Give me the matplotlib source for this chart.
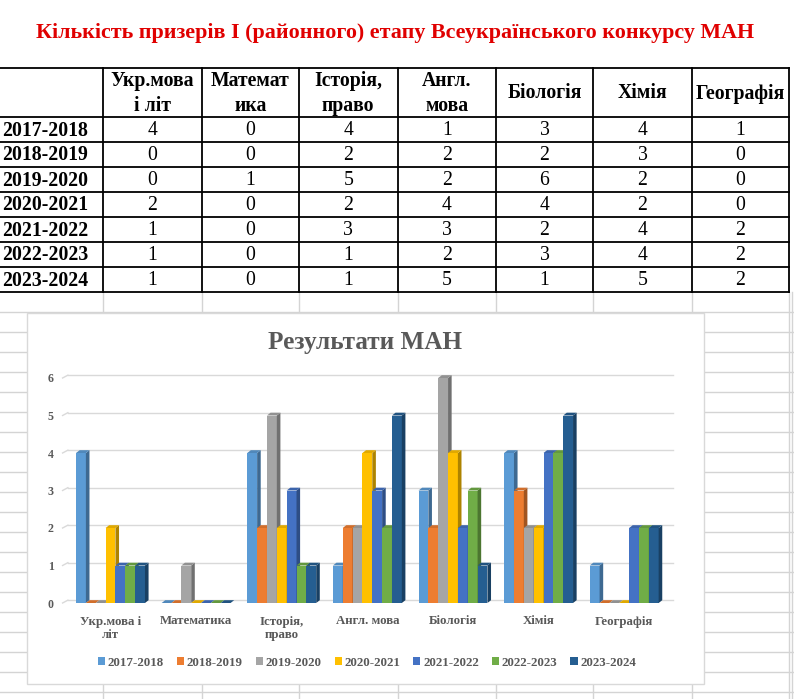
import matplotlib
matplotlib.use("Agg")
import matplotlib.pyplot as plt
from matplotlib.patches import Polygon, Rectangle, Patch
import matplotlib.colors as mcolors

plt.rcParams['font.family'] = ['Liberation Serif', 'DejaVu Serif']

# data
subjects_tab = ["Укр.мова\nі літ", "Математ\nика", "Історія,\nправо", "Англ.\nмова",
                "Біологія", "Хімія", "Географія"]
subjects = ["Укр.мова і\nліт", "Математика", "Історія,\nправо", "Англ. мова",
            "Біологія", "Хімія", "Географія"]
years = ["2017-2018", "2018-2019", "2019-2020", "2020-2021",
         "2021-2022", "2022-2023", "2023-2024"]
y2017 = [4, 0, 4, 1, 3, 4, 1]
y2018 = [0, 0, 2, 2, 2, 3, 0]
y2019 = [0, 1, 5, 2, 6, 2, 0]
y2020 = [2, 0, 2, 4, 4, 2, 0]
y2021 = [1, 0, 3, 3, 2, 4, 2]
y2022 = [1, 0, 1, 2, 3, 4, 2]
y2023 = [1, 0, 1, 5, 1, 5, 2]
series = [y2017, y2018, y2019, y2020, y2021, y2022, y2023]
colors = ["#5B9BD5", "#ED7D31", "#A5A5A5", "#FFC000", "#4472C4", "#70AD47", "#255E91"]

W, H = 794, 699
fig = plt.figure(figsize=(W / 100, H / 100), dpi=100)
bg = fig.add_axes([0, 0, 1, 1])
bg.set_xlim(0, W)
bg.set_ylim(H, 0)
bg.axis("off")

# spreadsheet grid
col_edges = [0, 103, 201.5, 299, 397.5, 496, 593, 692, 789]
head_top, head_bot, row_h = 68, 117, 25
tab_bot = head_bot + row_h * len(years)
grid_c = "#D4D4D4"
for x in col_edges[1:] + [792]:
    bg.plot([x, x], [tab_bot, H], color=grid_c, lw=1, zorder=0)
y = tab_bot + 20
while y < H:
    bg.plot([0, W], [y, y], color=grid_c, lw=1, zorder=0)
    y += 20

# title
bg.text(W / 2 - 2, 33, "Кількість призерів І (районного) етапу Всеукраїнського конкурсу МАН",
        color="#E00000", fontsize=15.8, fontweight="bold", ha="center", va="center")

# table
for i, x in enumerate(col_edges):
    if i > 0:
        bg.plot([x, x], [head_top, tab_bot], color="black", lw=1.3, zorder=2)
bg.plot([0, col_edges[-1]], [head_top, head_top], color="black", lw=1.3, zorder=2)
for r in range(len(years) + 1):
    yy = head_bot + r * row_h
    bg.plot([0, col_edges[-1]], [yy, yy], color="black", lw=1.3, zorder=2)
for j, s in enumerate(subjects_tab):
    cx = (col_edges[j + 1] + col_edges[j + 2]) / 2
    bg.text(cx, (head_top + head_bot) / 2 + 1, s, fontsize=14.2, fontweight="bold",
            ha="center", va="center", linespacing=1.3)
for r, yr in enumerate(years):
    cy = head_bot + r * row_h + row_h / 2 + 1
    bg.text(2, cy, yr, fontsize=14.2, fontweight="bold", ha="left", va="center")
    for j, v in enumerate(series[r]):
        cx = (col_edges[j + 1] + col_edges[j + 2]) / 2
        bg.text(cx, cy, str(v), fontsize=14.2, ha="center", va="center")

# chart box
bg.add_patch(Rectangle((27, 313), 677, 371, facecolor="white", edgecolor="#D9D9D9",
                       lw=1, zorder=3))
bg.text(364.5, 342, "Результати МАН", color="#595959", fontsize=18.2,
        fontweight="bold", ha="center", va="center", zorder=4)

# chart axes (pixel layout)
px_l, px_r, px_t, px_b = 67.7, 667, 378, 603
ax = fig.add_axes([px_l / W, 1 - px_b / H, (px_r - px_l) / W, (px_b - px_t) / H])
ax.set_xlim(-0.5, 6.5)
ax.set_ylim(0, 6)
ax.patch.set_alpha(0)
for sp in ax.spines.values():
    sp.set_visible(False)

dx, dy = 0.042, 0.075
bw = 0.115
n = len(series)
for k in range(7):
    ax.plot([-0.56, -0.56 + dx + 0.02], [k, k + dy], color="#D9D9D9", lw=1, zorder=1,
            clip_on=False)
    ax.plot([-0.56 + dx + 0.02, 6.57], [k + dy, k + dy], color="#D9D9D9", lw=1,
            zorder=1, clip_on=False)

z = 2
for c in range(len(subjects)):
    for s in range(n):
        v = series[s][c]
        col = colors[s]
        rgb = mcolors.to_rgb(col)
        side = tuple(ch * 0.68 for ch in rgb)
        top = tuple(ch * 0.88 for ch in rgb)
        x0 = c - n * bw / 2 + s * bw
        ax.bar(x0, v, width=bw, align="edge", color=col, zorder=z, lw=0)
        ax.add_patch(Polygon([(x0 + bw, 0), (x0 + bw + dx, dy), (x0 + bw + dx, v + dy),
                              (x0 + bw, v)], closed=True, facecolor=side, lw=0,
                             zorder=z, clip_on=False))
        ax.add_patch(Polygon([(x0, v), (x0 + dx, v + dy), (x0 + bw + dx, v + dy),
                              (x0 + bw, v)], closed=True, facecolor=top, lw=0,
                             zorder=z, clip_on=False))
        z += 1

ax.set_xticks(range(len(subjects)))
ax.set_xticklabels(subjects, fontsize=9.3, fontweight="bold", color="#595959",
                   linespacing=1.2)
ax.set_yticks(range(7))
ax.set_yticklabels([str(k) for k in range(7)], fontsize=8.6, fontweight="bold",
                   color="#595959")
ax.tick_params(axis="both", length=0)
ax.tick_params(axis="x", pad=9)
ax.tick_params(axis="y", pad=10)

handles = [Patch(facecolor=colors[s], edgecolor="none") for s in range(n)]
leg = fig.legend(handles, years, loc="center", bbox_to_anchor=(367 / W, 1 - 663 / H),
                 ncol=n, frameon=False, handlelength=0.55, handleheight=0.55,
                 handletextpad=0.2, columnspacing=1.0,
                 prop={"size": 9.4, "weight": "bold"})
for t in leg.get_texts():
    t.set_color("#595959")

fig.savefig("out.png", dpi=100)
